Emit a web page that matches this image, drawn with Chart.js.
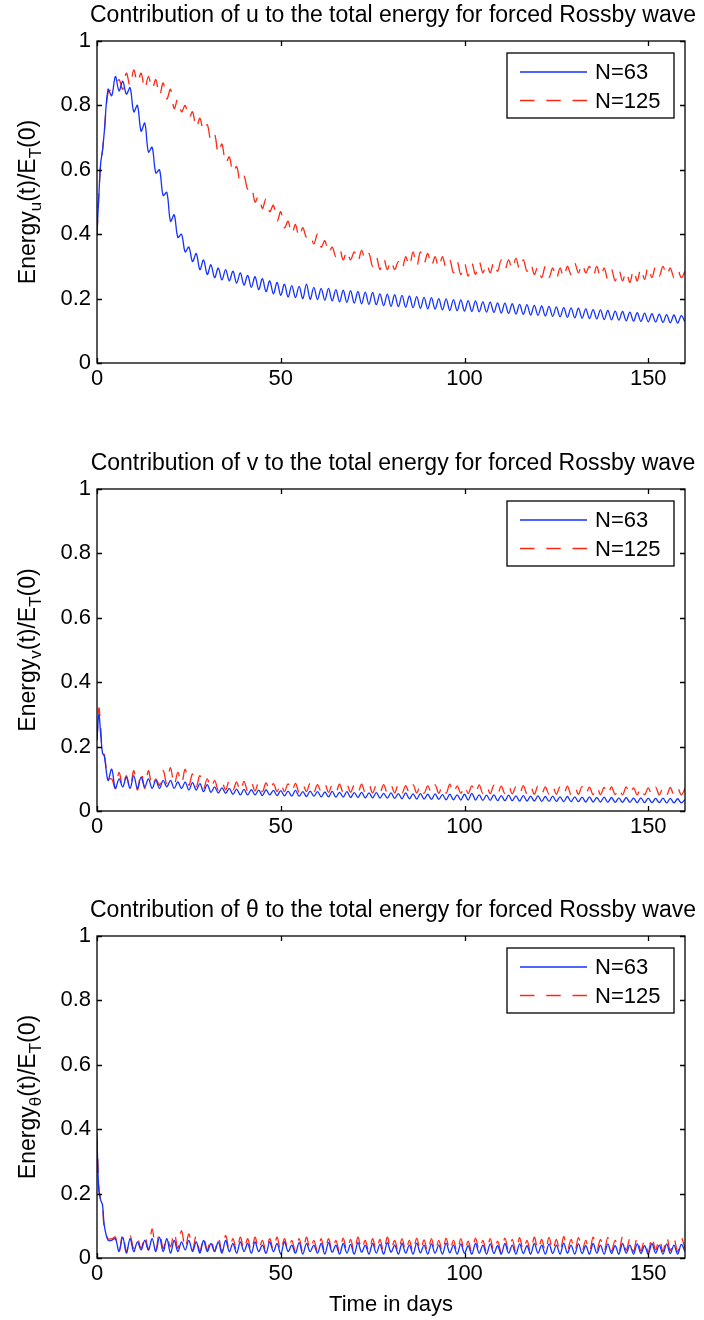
<!DOCTYPE html>
<html>
<head>
<meta charset="utf-8">
<script src="https://cdn.jsdelivr.net/npm/chart.js@4.4.1/dist/chart.umd.min.js"></script>
<style>
  html, body { margin: 0; padding: 0; background: #fff; }
  body { width: 704px; height: 1320px; position: relative; overflow: hidden; }
  canvas.panel { position: absolute; left: 0; }
</style>
</head>
<body>
<canvas id="panelU" class="panel" style="top:0px" width="704" height="448"></canvas>
<canvas id="panelV" class="panel" style="top:448px" width="704" height="447"></canvas>
<canvas id="panelTheta" class="panel" style="top:895px" width="704" height="425"></canvas>
<script>
// Time axis (days)
const days = [0,0.5,1,1.5,2,3,4,5,6,7,8,9,10,11,12,13,14,15,16,17,18,19,20,21,22,23,24,25,26,27,28,29,30,31,32,33,34,35,36,37,38,39,40,41,42,43,44,45,46,47,48,49,50,51,52,53,54,55,56,57,58,59,60,61,62,63,64,65,66,67,68,69,70,71,72,73,74,75,76,77,78,79,80,81,82,83,84,85,86,87,88,89,90,91,92,93,94,95,96,97,98,99,100,101,102,103,104,105,106,107,108,109,110,111,112,113,114,115,116,117,118,119,120,121,122,123,124,125,126,127,128,129,130,131,132,133,134,135,136,137,138,139,140,141,142,143,144,145,146,147,148,149,150,151,152,153,154,155,156,157,158,159,160];

// Energy in u, normalised by E_T(0)
const energyU63 = [0.40,0.52,0.62,0.66,0.72,
  0.85,0.83,0.89,0.845,0.875,0.835,0.855,0.78,0.80,0.72,
  0.745,0.655,0.67,0.59,0.60,0.52,0.53,0.44,0.46,0.39,
  0.40,0.345,0.36,0.315,0.34,0.29,0.32,0.275,0.305,0.265,
  0.295,0.258,0.29,0.255,0.285,0.248,0.28,0.242,0.272,0.235,
  0.268,0.228,0.262,0.222,0.255,0.215,0.25,0.21,0.245,0.205,
  0.24,0.203,0.238,0.2,0.245,0.198,0.235,0.197,0.232,0.195,
  0.232,0.193,0.228,0.19,0.226,0.188,0.225,0.186,0.222,0.184,
  0.22,0.182,0.219,0.181,0.215,0.178,0.214,0.176,0.212,0.175,
  0.21,0.173,0.208,0.172,0.206,0.17,0.204,0.168,0.203,0.167,
  0.2,0.165,0.199,0.163,0.197,0.162,0.196,0.161,0.194,0.16,
  0.193,0.159,0.19,0.158,0.189,0.157,0.187,0.155,0.186,0.154,
  0.184,0.152,0.182,0.151,0.181,0.149,0.179,0.148,0.177,0.146,
  0.176,0.145,0.174,0.143,0.172,0.142,0.171,0.14,0.17,0.139,
  0.168,0.138,0.166,0.137,0.165,0.135,0.163,0.134,0.161,0.133,
  0.16,0.131,0.158,0.13,0.156,0.129,0.155,0.128,0.153,0.127,
  0.152,0.126,0.15,0.125,0.149,0.124,0.147,0.128];
const energyU125 = [0.40,0.52,0.62,0.66,0.72,
  0.84,0.85,0.86,0.88,0.85,0.90,0.86,0.91,0.87,0.90,
  0.85,0.89,0.85,0.88,0.83,0.87,0.82,0.85,0.79,0.82,
  0.78,0.80,0.76,0.78,0.73,0.76,0.72,0.74,0.69,0.71,
  0.65,0.68,0.62,0.64,0.59,0.61,0.56,0.58,0.54,0.55,
  0.50,0.52,0.48,0.51,0.47,0.49,0.44,0.47,0.42,0.44,
  0.40,0.43,0.39,0.42,0.39,0.40,0.37,0.40,0.36,0.38,
  0.34,0.36,0.33,0.355,0.32,0.35,0.32,0.345,0.315,0.35,
  0.32,0.34,0.30,0.33,0.29,0.325,0.29,0.32,0.29,0.315,
  0.29,0.33,0.30,0.345,0.30,0.345,0.31,0.34,0.30,0.33,
  0.295,0.33,0.295,0.32,0.28,0.315,0.275,0.31,0.27,0.31,
  0.275,0.315,0.28,0.31,0.28,0.315,0.285,0.32,0.29,0.32,
  0.29,0.325,0.29,0.32,0.285,0.31,0.275,0.30,0.265,0.30,
  0.265,0.295,0.26,0.295,0.265,0.30,0.275,0.31,0.28,0.31,
  0.28,0.30,0.27,0.30,0.265,0.295,0.26,0.29,0.255,0.29,
  0.255,0.285,0.25,0.29,0.255,0.295,0.26,0.30,0.265,0.30,
  0.27,0.30,0.27,0.295,0.265,0.29,0.265,0.285];

// Energy in v
const energyV63 = [0.22,0.30,0.24,0.18,0.17,
  0.095,0.13,0.07,0.10,0.075,0.105,0.07,0.11,0.07,0.105,
  0.075,0.10,0.07,0.095,0.07,0.095,0.075,0.095,0.07,0.09,
  0.07,0.09,0.065,0.088,0.065,0.085,0.06,0.082,0.058,0.075,
  0.056,0.072,0.055,0.07,0.052,0.068,0.05,0.067,0.05,0.066,
  0.05,0.065,0.048,0.066,0.05,0.064,0.048,0.063,0.047,0.062,
  0.046,0.064,0.046,0.06,0.045,0.062,0.046,0.06,0.044,0.059,
  0.044,0.061,0.043,0.058,0.043,0.06,0.042,0.057,0.042,0.058,
  0.041,0.056,0.041,0.057,0.04,0.055,0.04,0.056,0.039,0.054,
  0.038,0.056,0.038,0.053,0.037,0.054,0.037,0.052,0.036,0.053,
  0.036,0.051,0.035,0.052,0.035,0.05,0.034,0.052,0.034,0.055,
  0.034,0.05,0.033,0.049,0.033,0.05,0.032,0.048,0.032,0.049,
  0.032,0.047,0.031,0.048,0.031,0.046,0.031,0.047,0.03,0.045,
  0.03,0.046,0.03,0.044,0.029,0.045,0.029,0.044,0.029,0.043,
  0.028,0.044,0.028,0.042,0.028,0.043,0.027,0.042,0.027,0.041,
  0.027,0.042,0.027,0.04,0.026,0.041,0.026,0.04,0.026,0.039,
  0.026,0.04,0.025,0.039,0.025,0.038,0.025,0.036];
const energyV125 = [0.22,0.32,0.26,0.18,0.175,
  0.10,0.10,0.07,0.12,0.075,0.11,0.07,0.125,0.065,0.12,
  0.07,0.125,0.075,0.10,0.08,0.125,0.085,0.135,0.08,0.12,
  0.085,0.13,0.08,0.115,0.075,0.11,0.07,0.10,0.07,0.095,
  0.065,0.09,0.065,0.095,0.065,0.09,0.06,0.092,0.062,0.088,
  0.062,0.09,0.06,0.087,0.062,0.085,0.06,0.088,0.06,0.084,
  0.06,0.086,0.058,0.083,0.06,0.087,0.058,0.082,0.06,0.084,
  0.058,0.08,0.058,0.083,0.057,0.082,0.058,0.08,0.057,0.083,
  0.057,0.081,0.056,0.08,0.057,0.082,0.056,0.08,0.056,0.083,
  0.056,0.079,0.055,0.082,0.056,0.08,0.055,0.078,0.055,0.081,
  0.055,0.079,0.055,0.083,0.054,0.078,0.055,0.08,0.054,0.078,
  0.054,0.081,0.054,0.077,0.054,0.08,0.053,0.077,0.054,0.079,
  0.053,0.076,0.053,0.079,0.053,0.076,0.052,0.078,0.053,0.075,
  0.052,0.077,0.052,0.075,0.052,0.077,0.051,0.074,0.052,0.076,
  0.051,0.074,0.051,0.076,0.051,0.073,0.05,0.075,0.051,0.073,
  0.05,0.075,0.05,0.072,0.05,0.074,0.05,0.072,0.05,0.074,
  0.05,0.072,0.049,0.073,0.049,0.071,0.05,0.07];

// Energy in theta
const energyTheta63 = [0.37,0.21,0.18,0.165,0.10,
  0.055,0.055,0.06,0.02,0.065,0.015,0.06,0.02,0.05,0.025,
  0.055,0.025,0.06,0.02,0.065,0.02,0.06,0.015,0.055,0.02,
  0.05,0.025,0.055,0.02,0.05,0.015,0.055,0.02,0.045,0.02,
  0.05,0.015,0.055,0.02,0.045,0.015,0.05,0.02,0.045,0.015,
  0.05,0.02,0.04,0.015,0.05,0.02,0.045,0.012,0.05,0.02,
  0.04,0.015,0.048,0.012,0.045,0.02,0.04,0.015,0.045,0.012,
  0.048,0.018,0.04,0.012,0.045,0.015,0.042,0.012,0.048,0.018,
  0.04,0.012,0.045,0.015,0.042,0.012,0.048,0.018,0.04,0.012,
  0.045,0.015,0.04,0.012,0.046,0.016,0.04,0.012,0.044,0.015,
  0.04,0.012,0.046,0.016,0.04,0.012,0.044,0.015,0.038,0.012,
  0.045,0.015,0.04,0.012,0.044,0.014,0.038,0.012,0.045,0.015,
  0.04,0.012,0.044,0.014,0.038,0.012,0.045,0.015,0.04,0.012,
  0.044,0.014,0.04,0.012,0.046,0.015,0.04,0.012,0.044,0.014,
  0.038,0.012,0.045,0.015,0.04,0.012,0.044,0.014,0.038,0.012,
  0.045,0.015,0.04,0.012,0.044,0.014,0.038,0.012,0.045,0.015,
  0.04,0.012,0.044,0.014,0.04,0.012,0.042,0.02];
const energyTheta125 = [0.39,0.22,0.18,0.16,0.09,
  0.06,0.06,0.065,0.02,0.075,0.02,0.07,0.03,0.06,0.03,
  0.07,0.025,0.09,0.025,0.08,0.03,0.065,0.035,0.08,0.03,
  0.085,0.03,0.075,0.025,0.07,0.02,0.065,0.025,0.06,0.02,
  0.065,0.02,0.07,0.025,0.06,0.02,0.065,0.025,0.06,0.02,
  0.065,0.025,0.055,0.02,0.06,0.025,0.065,0.02,0.06,0.025,
  0.055,0.02,0.06,0.018,0.065,0.025,0.055,0.02,0.06,0.018,
  0.06,0.022,0.055,0.018,0.062,0.022,0.058,0.018,0.065,0.025,
  0.055,0.018,0.06,0.022,0.058,0.018,0.065,0.025,0.055,0.018,
  0.06,0.02,0.055,0.018,0.062,0.022,0.056,0.018,0.06,0.02,
  0.055,0.018,0.062,0.022,0.055,0.018,0.06,0.02,0.052,0.018,
  0.062,0.022,0.055,0.018,0.06,0.02,0.052,0.018,0.062,0.022,
  0.058,0.018,0.063,0.022,0.055,0.018,0.065,0.024,0.058,0.02,
  0.064,0.022,0.058,0.018,0.066,0.024,0.058,0.02,0.063,0.022,
  0.055,0.018,0.065,0.024,0.058,0.02,0.064,0.022,0.055,0.018,
  0.066,0.024,0.06,0.02,0.065,0.022,0.056,0.018,0.067,0.025,
  0.06,0.02,0.066,0.023,0.06,0.02,0.062,0.03];

// Axis ticks and labels
const xTicks = [0, 50, 100, 150];
const yTicks = [0, 0.2, 0.4, 0.6, 0.8, 1];
const yTickLabels = ['0', '0.2', '0.4', '0.6', '0.8', '1'];
const seriesNames = ['N=63', 'N=125'];
const panelTitles = [
  'Contribution of u to the total energy for forced Rossby wave',
  'Contribution of v to the total energy for forced Rossby wave',
  'Contribution of \u03b8 to the total energy for forced Rossby wave'
];
const panelSubscripts = ['u', 'v', '\u03b8'];
const xAxisTitle = 'Time in days';

const FONT = '"Liberation Sans", Arial, Helvetica, sans-serif';
const BLUE = 'rgb(20,50,255)';
const RED = 'rgb(255,40,20)';
const DASH = [14.5, 11.75];

Chart.defaults.font.family = FONT;
Chart.defaults.font.size = 22;
Chart.defaults.color = '#000';

function toPoints(vals) {
  return vals.map((v, i) => ({ x: days[i], y: v }));
}

// Axes box, inward ticks, title, rotated y label with subscripts, legend
const panelDecor = {
  id: 'panelDecor',
  afterDraw(chart, args, opts) {
    const ctx = chart.ctx;
    const ca = chart.chartArea;
    const xs = chart.scales.x, ys = chart.scales.y;
    ctx.save();

    // box
    ctx.strokeStyle = '#000';
    ctx.lineWidth = 1.3;
    ctx.setLineDash([]);
    ctx.strokeRect(ca.left, ca.top, ca.right - ca.left, ca.bottom - ca.top);

    // inward tick marks on all four sides
    const tl = 5;
    ctx.beginPath();
    xTicks.forEach(v => {
      const px = Math.round(xs.getPixelForValue(v)) + 0.5;
      ctx.moveTo(px, ca.bottom); ctx.lineTo(px, ca.bottom - tl);
      ctx.moveTo(px, ca.top); ctx.lineTo(px, ca.top + tl);
    });
    yTicks.forEach(v => {
      const py = Math.round(ys.getPixelForValue(v)) + 0.5;
      ctx.moveTo(ca.left, py); ctx.lineTo(ca.left + tl, py);
      ctx.moveTo(ca.right, py); ctx.lineTo(ca.right - tl, py);
    });
    ctx.stroke();

    // title
    ctx.fillStyle = '#000';
    ctx.font = '23px ' + FONT;
    ctx.textAlign = 'center';
    ctx.textBaseline = 'middle';
    ctx.fillText(opts.title, (ca.left + ca.right) / 2 + 2, ca.top - 25);

    // y label: Energy_s(t)/E_T(0)
    const parts = [
      { t: 'Energy', sub: false }, { t: opts.sub, sub: true },
      { t: '(t)/E', sub: false }, { t: 'T', sub: true }, { t: '(0)', sub: false }
    ];
    const mainFont = '23px ' + FONT, subFont = '17px ' + FONT;
    let total = 0;
    parts.forEach(p => { ctx.font = p.sub ? subFont : mainFont; p.w = ctx.measureText(p.t).width; total += p.w; });
    ctx.save();
    ctx.translate(35, (ca.top + ca.bottom) / 2);
    ctx.rotate(-Math.PI / 2);
    ctx.textAlign = 'left';
    ctx.textBaseline = 'alphabetic';
    let px = -total / 2;
    parts.forEach(p => {
      ctx.font = p.sub ? subFont : mainFont;
      ctx.fillText(p.t, px, p.sub ? 6 : 0);
      px += p.w;
    });
    ctx.restore();

    // x label
    if (opts.xLabel) {
      ctx.font = '22px ' + FONT;
      ctx.textAlign = 'center';
      ctx.textBaseline = 'middle';
      ctx.fillText(opts.xLabel, (ca.left + ca.right) / 2, ca.bottom + 47);
    }

    // legend
    const bw = 167, bh = 65;
    const bx = ca.right - 11 - bw, by = ca.top + 12;
    ctx.fillStyle = '#fff';
    ctx.fillRect(bx, by, bw, bh);
    ctx.lineWidth = 1.3;
    ctx.strokeStyle = '#000';
    ctx.strokeRect(bx, by, bw, bh);
    chart.data.datasets.forEach((ds, i) => {
      const ly = by + 19 + i * 28.5;
      ctx.beginPath();
      ctx.strokeStyle = ds.borderColor;
      ctx.lineWidth = ds.borderWidth;
      ctx.setLineDash(ds.borderDash || []);
      ctx.moveTo(bx + 13, ly);
      ctx.lineTo(bx + 80, ly);
      ctx.stroke();
      ctx.setLineDash([]);
      ctx.fillStyle = '#000';
      ctx.font = '22px ' + FONT;
      ctx.textAlign = 'left';
      ctx.textBaseline = 'middle';
      ctx.fillText(ds.label, bx + 88, ly + 1);
    });
    ctx.restore();
  }
};

function makePanel(id, coarse, fine, idx, withXLabel) {
  const canvas = document.getElementById(id);
  const H = canvas.height;
  return new Chart(canvas, {
    type: 'line',
    data: {
      datasets: [
        { label: seriesNames[0], data: toPoints(coarse), borderColor: BLUE, borderWidth: 1.3,
          pointRadius: 0, tension: 0.35, fill: false },
        { label: seriesNames[1], data: toPoints(fine), borderColor: RED, borderWidth: 1.3,
          borderDash: DASH, pointRadius: 0, tension: 0.35, fill: false }
      ]
    },
    options: {
      responsive: false,
      devicePixelRatio: 1,
      animation: false,
      events: [],
      layout: { padding: { left: 0, top: 41, right: 19, bottom: H - 363 - 30 } },
      plugins: {
        legend: { display: false },
        tooltip: { enabled: false },
        title: { display: false },
        panelDecor: { title: panelTitles[idx], sub: panelSubscripts[idx], xLabel: withXLabel ? xAxisTitle : null }
      },
      scales: {
        x: {
          type: 'linear', min: 0, max: 160,
          grid: { display: false, drawTicks: false }, border: { display: false },
          ticks: { font: { size: 22 }, color: '#000', padding: 3, maxRotation: 0 },
          afterBuildTicks: s => { s.ticks = xTicks.map(v => ({ value: v })); },
          afterFit: s => { s.height = 30; }
        },
        y: {
          type: 'linear', min: 0, max: 1,
          grid: { display: false, drawTicks: false }, border: { display: false },
          ticks: { font: { size: 22 }, color: '#000', padding: 6,
                   callback: (v) => { const k = yTicks.indexOf(v); return k >= 0 ? yTickLabels[k] : ''; } },
          afterBuildTicks: s => { s.ticks = yTicks.map(v => ({ value: v })); },
          afterFit: s => { s.width = 97; }
        }
      }
    },
    plugins: [panelDecor]
  });
}

makePanel('panelU', energyU63, energyU125, 0, false);
makePanel('panelV', energyV63, energyV125, 1, false);
makePanel('panelTheta', energyTheta63, energyTheta125, 2, true);
</script>
</body>
</html>
